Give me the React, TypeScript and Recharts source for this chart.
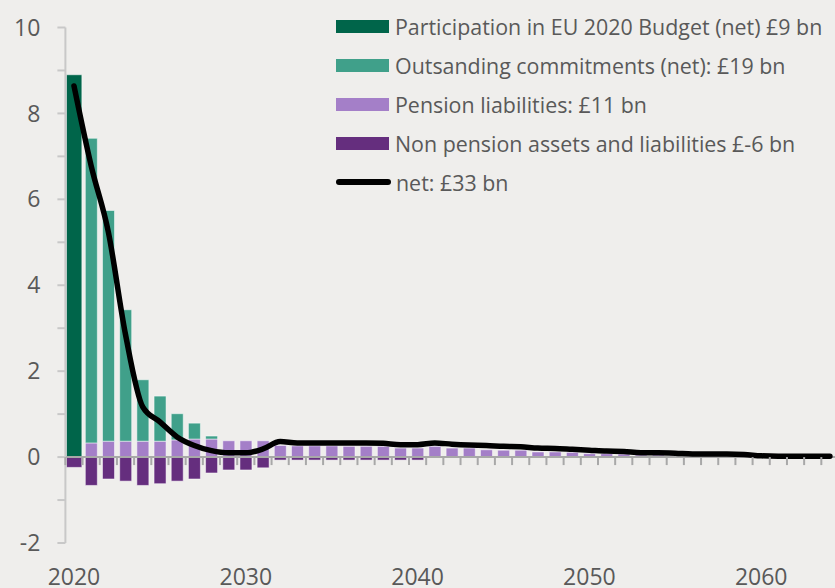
import { Bar, ComposedChart, Line, Rectangle, ReferenceLine, XAxis, YAxis } from "recharts"

const years = [
  2020, 2021, 2022, 2023, 2024, 2025, 2026, 2027, 2028, 2029,
  2030, 2031, 2032, 2033, 2034, 2035, 2036, 2037, 2038, 2039,
  2040, 2041, 2042, 2043, 2044, 2045, 2046, 2047, 2048, 2049,
  2050, 2051, 2052, 2053, 2054, 2055, 2056, 2057, 2058, 2059,
  2060, 2061, 2062, 2063, 2064,
]

const participation = [8.9]

const outstanding = [0, 7.09, 5.37, 3.06, 1.43, 1.05, 0.61, 0.37, 0.07]

const pension = [
  0, 0.33, 0.37, 0.37, 0.37, 0.37, 0.4, 0.42, 0.42, 0.38,
  0.38, 0.38, 0.27, 0.26, 0.26, 0.26, 0.25, 0.25, 0.25, 0.21,
  0.21, 0.25, 0.21, 0.21, 0.17, 0.16, 0.16, 0.12, 0.12, 0.11,
  0.08, 0.08, 0.07, 0.05, 0.05, 0.04, 0.03, 0.03, 0.02, 0.02,
  0.01,
]

const nonPension = [
  -0.24, -0.66, -0.51, -0.56, -0.66, -0.62, -0.56, -0.51, -0.37, -0.3,
  -0.3, -0.25, -0.07, -0.07, -0.07, -0.07, -0.07, -0.07, -0.07, -0.07,
  -0.07,
]

const net = [
  8.64, 6.78, 5.24, 2.85, 1.17, 0.82, 0.47, 0.27, 0.15, 0.1,
  0.1, 0.19, 0.36, 0.33, 0.33, 0.33, 0.33, 0.33, 0.32, 0.29,
  0.29, 0.33, 0.3, 0.28, 0.27, 0.25, 0.24, 0.21, 0.2, 0.18,
  0.16, 0.14, 0.13, 0.1, 0.1, 0.09, 0.07, 0.07, 0.07, 0.06,
  0.03, 0.02, 0.02, 0.02, 0.02,
]

const yTicks = [-2, -1, 0, 1, 2, 3, 4, 5, 6, 7, 8, 9, 10]

const series = [
  { key: "participation", label: "Participation in EU 2020 Budget (net) £9 bn", color: "#00654a" },
  { key: "outstanding", label: "Outsanding commitments (net): £19 bn", color: "#40a08a" },
  { key: "pension", label: "Pension liabilities: £11 bn", color: "#a47fc8" },
  { key: "nonPension", label: "Non pension assets and liabilities £-6 bn", color: "#652e7e" },
]
const netLabel = "net: £33 bn"

const data = years.map((year, i) => ({
  year,
  participation: participation[i] ?? 0,
  outstanding: outstanding[i] ?? 0,
  pension: pension[i] ?? 0,
  nonPension: nonPension[i] ?? 0,
  net: net[i],
}))

// layout
const CHART_W = 850
const CHART_H = 588
const M_TOP = 27.5
const M_RIGHT = 11.5
const Y_W = 65.4
const X_H = 45
const PLOT_H = CHART_H - M_TOP - X_H
const ZERO_Y = M_TOP + (PLOT_H * 10) / 12
const BAND = (CHART_W - Y_W - M_RIGHT) / years.length

const TEXT = "#595959"
const AXIS = "#c8c8c8"
const XAXIS = "#a8a8a8"

function YearTick(props: any) {
  const { x, payload } = props
  const y = Number(payload.value)
  return (
    <g>
      <line x1={x - BAND / 2} x2={x - BAND / 2} y1={ZERO_Y} y2={ZERO_Y + 8} stroke={XAXIS} strokeWidth={2} />
      {y % 10 === 0 && (
        <text x={x} y={M_TOP + PLOT_H + 42} textAnchor="middle" fontSize={23} fill={TEXT}>
          {y}
        </text>
      )}
    </g>
  )
}

// the 2020 column is drawn a bit wider in the original
const widenFirst = (props: any) => {
  const extra = props.index === 0 ? 3.4 : 0
  return <Rectangle {...props} x={props.x - extra / 2} width={props.width + extra} />
}

function ChartLegend() {
  return (
    <div style={{ position: "absolute", left: 336, top: 7.6, color: TEXT, fontSize: 21.4 }}>
      {series.map((s) => (
        <div key={s.key} style={{ display: "flex", alignItems: "center", height: 38.8 }}>
          <div style={{ width: 53, height: 13, background: s.color, marginRight: 6 }} />
          <span style={{ whiteSpace: "nowrap" }}>{s.label}</span>
        </div>
      ))}
      <div style={{ display: "flex", alignItems: "center", height: 38.8 }}>
        <div style={{ width: 55, height: 6, borderRadius: 3, background: "#000", marginRight: 5 }} />
        <span style={{ whiteSpace: "nowrap" }}>{netLabel}</span>
      </div>
    </div>
  )
}

export default function App() {
  return (
    <div
      style={{
        position: "fixed",
        left: 0,
        top: 0,
        width: 835,
        height: 588,
        overflow: "hidden",
        background: "#efeeec",
        fontFamily: "'Open Sans', sans-serif",
      }}
    >
      <ComposedChart
        width={CHART_W}
        height={CHART_H}
        data={data}
        stackOffset="sign"
        barCategoryGap="16%"
        margin={{ top: M_TOP, right: M_RIGHT, bottom: 0, left: 0 }}
      >
        <XAxis
          dataKey="year"
          interval={0}
          height={X_H}
          axisLine={false}
          tickLine={false}
          tick={<YearTick />}
        />
        <YAxis
          domain={[-2, 10]}
          ticks={yTicks}
          interval={0}
          width={Y_W}
          axisLine={{ stroke: AXIS, strokeWidth: 2 }}
          tickLine={{ stroke: AXIS, strokeWidth: 2 }}
          tickSize={8}
          tickMargin={17}
          tick={{ fontSize: 23, fill: TEXT }}
          tickFormatter={(v: number) => (v % 2 === 0 ? String(v) : "")}
        />
        <Bar dataKey="participation" stackId="a" fill={series[0].color} stroke="#fff" strokeOpacity={0.5} strokeWidth={1} shape={widenFirst} isAnimationActive={false} />
        <Bar dataKey="pension" stackId="a" fill={series[2].color} stroke="#fff" strokeOpacity={0.5} strokeWidth={1} shape={widenFirst} isAnimationActive={false} />
        <Bar dataKey="outstanding" stackId="a" fill={series[1].color} stroke="#fff" strokeOpacity={0.5} strokeWidth={1} shape={widenFirst} isAnimationActive={false} />
        <Bar dataKey="nonPension" stackId="a" fill={series[3].color} stroke="#fff" strokeOpacity={0.5} strokeWidth={1} shape={widenFirst} isAnimationActive={false} />
        <ReferenceLine y={0} stroke={XAXIS} strokeWidth={2} />
        <Line
          dataKey="net"
          type="monotone"
          stroke="#000"
          strokeWidth={5.5}
          strokeLinecap="round"
          strokeLinejoin="round"
          dot={false}
          isAnimationActive={false}
        />
      </ComposedChart>
      <ChartLegend />
    </div>
  )
}
